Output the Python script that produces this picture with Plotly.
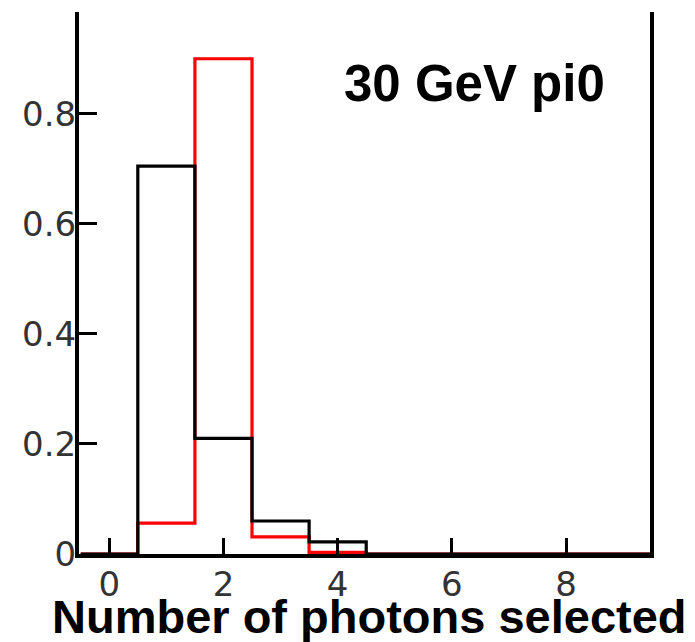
import plotly.graph_objects as go

# Photon multiplicity per event, bins centred on integer counts
n_photons = [0, 1, 2, 3, 4, 5, 6, 7, 8, 9]
black_frac = [0.0, 0.705, 0.21, 0.06, 0.022, 0.0, 0.0, 0.0, 0.0, 0.0]
red_frac = [0.0, 0.056, 0.90, 0.031, 0.003, 0.0, 0.0, 0.0, 0.0, 0.0]

x_ticks = [0, 2, 4, 6, 8]
x_tick_text = ["0", "2", "4", "6", "8"]
y_ticks = [0, 0.2, 0.4, 0.6, 0.8]
y_tick_text = ["0", "0.2", "0.4", "0.6", "0.8"]

label_text = "30 GeV pi0"
x_title = "Number of photons selected"


def step_xy(centres, values):
    """Bin edges and step heights for an 'hv' outline histogram."""
    edges = [c - 0.5 for c in centres] + [centres[-1] + 0.5]
    heights = list(values) + [values[-1]]
    return edges, heights


fig = go.Figure()

rx, ry = step_xy(n_photons, red_frac)
fig.add_trace(go.Scatter(x=rx, y=ry, mode="lines", line_shape="hv",
                         line=dict(color="#ff0000", width=3.2),
                         showlegend=False, hoverinfo="skip"))

bx, by = step_xy(n_photons, black_frac)
fig.add_trace(go.Scatter(x=bx, y=by, mode="lines", line_shape="hv",
                         line=dict(color="#000000", width=3.2),
                         showlegend=False, hoverinfo="skip"))

tick_font = dict(family="DejaVu Sans", size=34, color="#333333")

fig.update_xaxes(range=[-0.53, 9.47], showgrid=False, zeroline=False,
                 showline=True, linecolor="black", linewidth=4, mirror=False,
                 ticks="inside", ticklen=16, tickwidth=3, tickcolor="black",
                 tickvals=x_ticks, ticktext=x_tick_text, tickfont=tick_font,
                 ticklabelstandoff=-3)
fig.update_yaxes(range=[0, 0.985], showgrid=False, zeroline=False,
                 showline=True, linecolor="black", linewidth=4, mirror=True,
                 ticks="inside", ticklen=18, tickwidth=3, tickcolor="black",
                 tickvals=y_ticks, ticktext=y_tick_text, tickfont=tick_font,
                 ticklabelstandoff=-8)

fig.add_annotation(text=label_text, xref="paper", yref="paper",
                   x=0.692, y=0.869, xanchor="center", yanchor="middle",
                   showarrow=False,
                   font=dict(family="Liberation Sans", size=51, color="black",
                             weight="bold"))
fig.add_annotation(text=x_title, xref="paper", yref="paper",
                   x=0.508, y=-0.115, xanchor="center", yanchor="middle",
                   showarrow=False,
                   font=dict(family="Liberation Sans", size=47, color="black",
                             weight="bold"))

fig.update_layout(width=695, height=642,
                  margin=dict(l=79, r=45, t=12, b=88),
                  paper_bgcolor="white", plot_bgcolor="white")

fig.write_html("out.html")
